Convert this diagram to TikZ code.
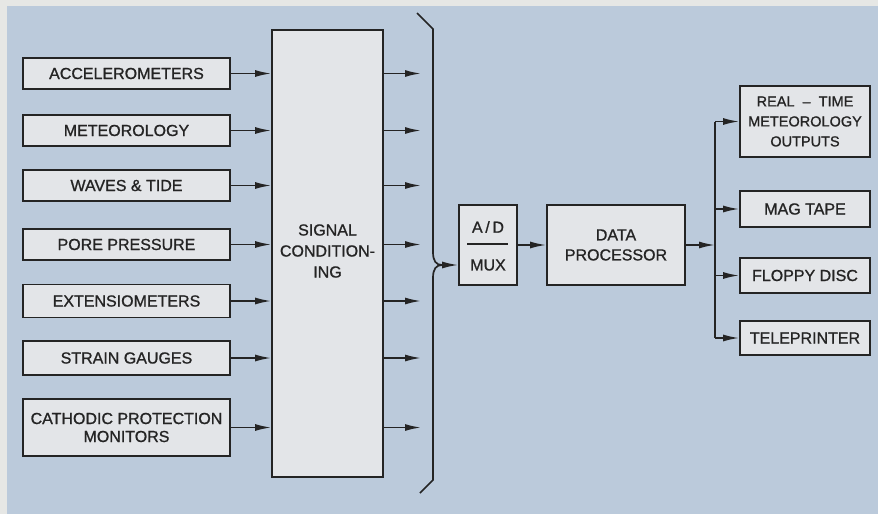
\documentclass[tikz,border=0pt]{standalone}
\usepackage{fontspec}
\usetikzlibrary{arrows.meta}
\newfontfamily\lettr[FakeBold=1]{Liberation Sans}
\definecolor{bgblue}{HTML}{BBCADB}
\definecolor{strip}{HTML}{E6E7E5}
\definecolor{boxfill}{HTML}{E3E5E8}
\definecolor{ink}{HTML}{242424}
\tikzset{
  blk/.style={draw=ink, fill=boxfill, line width=1.7pt, inner sep=0pt, align=center,
    text=ink, font=\fontsize{16}{20}\lettr},
  lbl/.style={inner sep=0pt, text=ink, font=\fontsize{16}{20}\lettr},
  ln/.style={draw=ink, line width=1.7pt},
  arr/.style={ln, -{Latex[length=16pt,width=7pt]}},
}
\begin{document}
\begin{tikzpicture}[x=1pt,y=-1pt]
\fill[strip] (0,0) rectangle (878,514);
\fill[bgblue] (7,6) rectangle (878,514);
\useasboundingbox (0,0) rectangle (878,514);

% left input boxes
\node[blk, minimum width=207pt, minimum height=31pt] (acc) at (126.5,73.5) {ACCELEROMETERS};
\node[blk, minimum width=207pt, minimum height=31pt] (met) at (126.5,130.5) {METEOROLOGY};
\node[blk, minimum width=207pt, minimum height=31pt] (wav) at (126.5,185.5) {WAVES \& TIDE};
\node[blk, minimum width=207pt, minimum height=31pt] (por) at (126.5,244.5) {PORE PRESSURE};
\node[blk, minimum width=207pt, minimum height=33pt] (ext) at (126.5,301) {EXTENSIOMETERS};
\node[blk, minimum width=207pt, minimum height=34pt] (str) at (126.5,358) {STRAIN GAUGES};
\node[blk, minimum width=207pt, minimum height=57pt, font=\fontsize{16}{18}\lettr] (cat) at (126.5,427.5) {CATHODIC PROTECTION\\MONITORS};

% signal conditioning
\node[blk, minimum width=111pt, minimum height=447pt] (sc) at (327.5,253.5) {};
\node[lbl, align=center, font=\fontsize{16}{21}\lettr] (sctxt) at (327.5,251) {SIGNAL\\CONDITION-\\ING};

\coordinate (outx) at (421,0);
\foreach \b in {acc,met,wav,por,ext,str,cat}{
  \draw[arr] (\b.east) -- (\b.east -| sc.west);
  \draw[arr] (\b.east -| sc.east) -- (\b.east -| outx);
}

% brace
\coordinate (btop) at (417,13);
\coordinate (bbot) at (420,493);
\coordinate (tip) at (442,265);
\draw[ln, line join=round] (btop) -- (433,29) -- (433,252)
  .. controls (433,261) and (436,265) .. (tip)
  .. controls (436,265) and (433,269) .. (433,278) -- (433,480) -- (bbot);

% A/D MUX
\node[blk, minimum width=58pt, minimum height=80pt] (adm) at (488,245) {};
\node[lbl] (ad) at (488,227) {A\,/\,D};
\node[lbl] (mux) at (488,265) {MUX};
\draw[ln] (467,244) -- (508,244);
\draw[arr] (tip) -- (tip -| adm.west);

% data processor
\node[blk, minimum width=138pt, minimum height=80pt] (dp) at (616,245) {DATA\\PROCESSOR};
\draw[arr] (adm.east) -- (dp.west);

% outputs
\node[blk, minimum width=130pt, minimum height=71pt, font=\fontsize{14.5}{20}\lettr] (rt) at (805,121.5) {REAL\ \ –\ \ TIME\\METEOROLOGY\\OUTPUTS};
\node[blk, minimum width=130pt, minimum height=36pt] (mt) at (805,209) {MAG TAPE};
\node[blk, minimum width=130pt, minimum height=35pt] (fd) at (805,275.5) {FLOPPY DISC};
\node[blk, minimum width=130pt, minimum height=34pt] (tp) at (805,338) {TELEPRINTER};

\coordinate (bus) at (715,0);
\draw[arr] (dp.east) -- (dp.east -| bus);
\draw[ln] (bus |- rt.west) -- (bus |- tp.west);
\foreach \b in {rt,mt,fd,tp}{
  \draw[arr] (bus |- \b.west) -- (\b.west);
}
\end{tikzpicture}
\end{document}
